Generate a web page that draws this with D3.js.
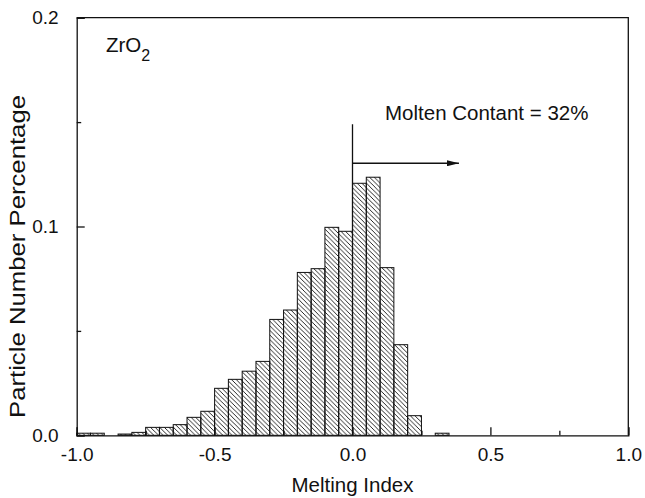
<!DOCTYPE html>
<html>
<head>
<meta charset="utf-8">
<script src="https://cdn.jsdelivr.net/npm/d3@7"></script>
<style>
  body { margin: 0; background: #fff; }
  text { font-family: "Liberation Sans", Arial, sans-serif; fill: #111; }
</style>
</head>
<body>
<div id="chart"></div>
<script>
// Histogram bins (left edge of each 0.05-wide bin) and heights
const binStarts = [-1.00, -0.95, -0.90, -0.85, -0.80, -0.75, -0.70, -0.65, -0.60, -0.55,
                   -0.50, -0.45, -0.40, -0.35, -0.30, -0.25, -0.20, -0.15, -0.10, -0.05,
                    0.00,  0.05,  0.10,  0.15,  0.20,  0.25,  0.30,  0.35];
const counts    = [0.0010, 0.0010, 0.0000, 0.0006, 0.0014, 0.0038, 0.0038, 0.0051, 0.0086, 0.0115,
                   0.0225, 0.0268, 0.0307, 0.0354, 0.0555, 0.0600, 0.0780, 0.0798, 0.0996, 0.0977,
                   0.1207, 0.1236, 0.0803, 0.0434, 0.0094, 0.0000, 0.0010, 0.0000];
const binWidth = 0.05;

const xTicks = [-1.0, -0.5, 0.0, 0.5, 1.0];
const xMinor = [-0.75, -0.25, 0.25, 0.75];
const yTicks = [0.0, 0.1, 0.2];
const yMinor = [0.05, 0.15];

// Annotation: molten threshold line and arrow
const markerX = 0.0, markerTop = 0.149, arrowY = 0.1303, arrowEnd = 0.386;

const W = 645, H = 498;
const margin = {top: 17.7, right: 16.7, bottom: 62.7, left: 76.7},
      width = W - margin.left - margin.right,
      height = H - margin.top - margin.bottom;

const svg = d3.select("#chart").append("svg")
    .attr("width", W)
    .attr("height", H);

// Hatch pattern for the bars
const defs = svg.append("defs");
defs.append("pattern")
    .attr("id", "hatch")
    .attr("patternUnits", "userSpaceOnUse")
    .attr("width", 4.6).attr("height", 4.6)
  .append("path")
    .attr("d", "M0,0 L4.6,4.6 M-1,3.6 L1,5.6 M3.6,-1 L5.6,1")
    .attr("stroke", "#111")
    .attr("stroke-width", 0.9);

defs.append("marker")
    .attr("id", "arrow")
    .attr("viewBox", "0 0 12 6")
    .attr("refX", 12).attr("refY", 3)
    .attr("markerWidth", 12).attr("markerHeight", 6)
    .attr("markerUnits", "userSpaceOnUse")
    .attr("orient", "auto")
  .append("path")
    .attr("d", "M0,0 L12,3 L0,6 Z")
    .attr("fill", "#111");

const g = svg.append("g")
    .attr("transform", `translate(${margin.left},${margin.top})`);

const x = d3.scaleLinear().domain([-1, 1]).range([0, width]);
const y = d3.scaleLinear().domain([0, 0.2]).range([height, 0]);

const data = binStarts.map((s, i) => ({start: s, value: counts[i]}))
    .filter(d => d.value > 0);

// Bars
g.selectAll(".bar")
  .data(data)
  .join("rect")
    .attr("class", "bar")
    .attr("x", d => x(d.start))
    .attr("y", d => y(d.value))
    .attr("width", d => x(d.start + binWidth) - x(d.start))
    .attr("height", d => y(0) - y(d.value))
    .attr("fill", "url(#hatch)")
    .attr("stroke", "#111")
    .attr("stroke-width", 1);

// plain hyphen minus like the original figure
const fmt = d => d.toFixed(1);

// Axes (ticks inward)
const xAxis = g.append("g")
    .attr("transform", `translate(0,${height})`)
    .call(d3.axisBottom(x).tickValues(xTicks).tickFormat(fmt)
      .tickSize(-8).tickPadding(12));
xAxis.selectAll(".tick text").style("font-size", "19px");

g.append("g")
    .attr("transform", `translate(0,${height})`)
    .call(d3.axisBottom(x).tickValues(xMinor).tickFormat("").tickSize(-4.5))
    .call(a => a.select(".domain").remove());

const yAxis = g.append("g")
    .call(d3.axisLeft(y).tickValues(yTicks).tickFormat(fmt)
      .tickSize(-8).tickPadding(18));
yAxis.selectAll(".tick text").style("font-size", "19px");

g.append("g")
    .call(d3.axisLeft(y).tickValues(yMinor).tickFormat("").tickSize(-4.5))
    .call(a => a.select(".domain").remove());

g.selectAll(".domain, .tick line").attr("stroke", "#111").attr("stroke-width", 1.3);

// Frame top and right
g.append("path")
    .attr("d", `M0,0 H${width} V${height}`)
    .attr("fill", "none")
    .attr("stroke", "#111")
    .attr("stroke-width", 1.3);

// Threshold line and arrow
g.append("line")
    .attr("x1", x(markerX)).attr("x2", x(markerX))
    .attr("y1", y(markerTop)).attr("y2", y(0))
    .attr("stroke", "#111").attr("stroke-width", 1.3);

g.append("line")
    .attr("x1", x(markerX)).attr("x2", x(arrowEnd))
    .attr("y1", y(arrowY)).attr("y2", y(arrowY))
    .attr("stroke", "#111").attr("stroke-width", 1.3)
    .attr("marker-end", "url(#arrow)");

// Annotations
svg.append("text")
    .attr("x", 385).attr("y", 120)
    .style("font-size", "20.5px")
    .text("Molten Contant = 32%");

const zr = svg.append("text")
    .attr("x", 106).attr("y", 51.5)
    .style("font-size", "20.5px");
zr.append("tspan").text("ZrO");
zr.append("tspan").attr("dy", 9).style("font-size", "16px").text("2");

// Axis titles
svg.append("text")
    .attr("x", margin.left + width / 2)
    .attr("y", 491.5)
    .attr("text-anchor", "middle")
    .style("font-size", "20.5px")
    .text("Melting Index");

svg.append("text")
    .attr("transform", `translate(25,${margin.top + height / 2 + 30}) rotate(-90)`)
    .attr("text-anchor", "middle")
    .attr("textLength", 323)
    .attr("lengthAdjust", "spacingAndGlyphs")
    .style("font-size", "22px")
    .text("Particle Number Percentage");
</script>
</body>
</html>
